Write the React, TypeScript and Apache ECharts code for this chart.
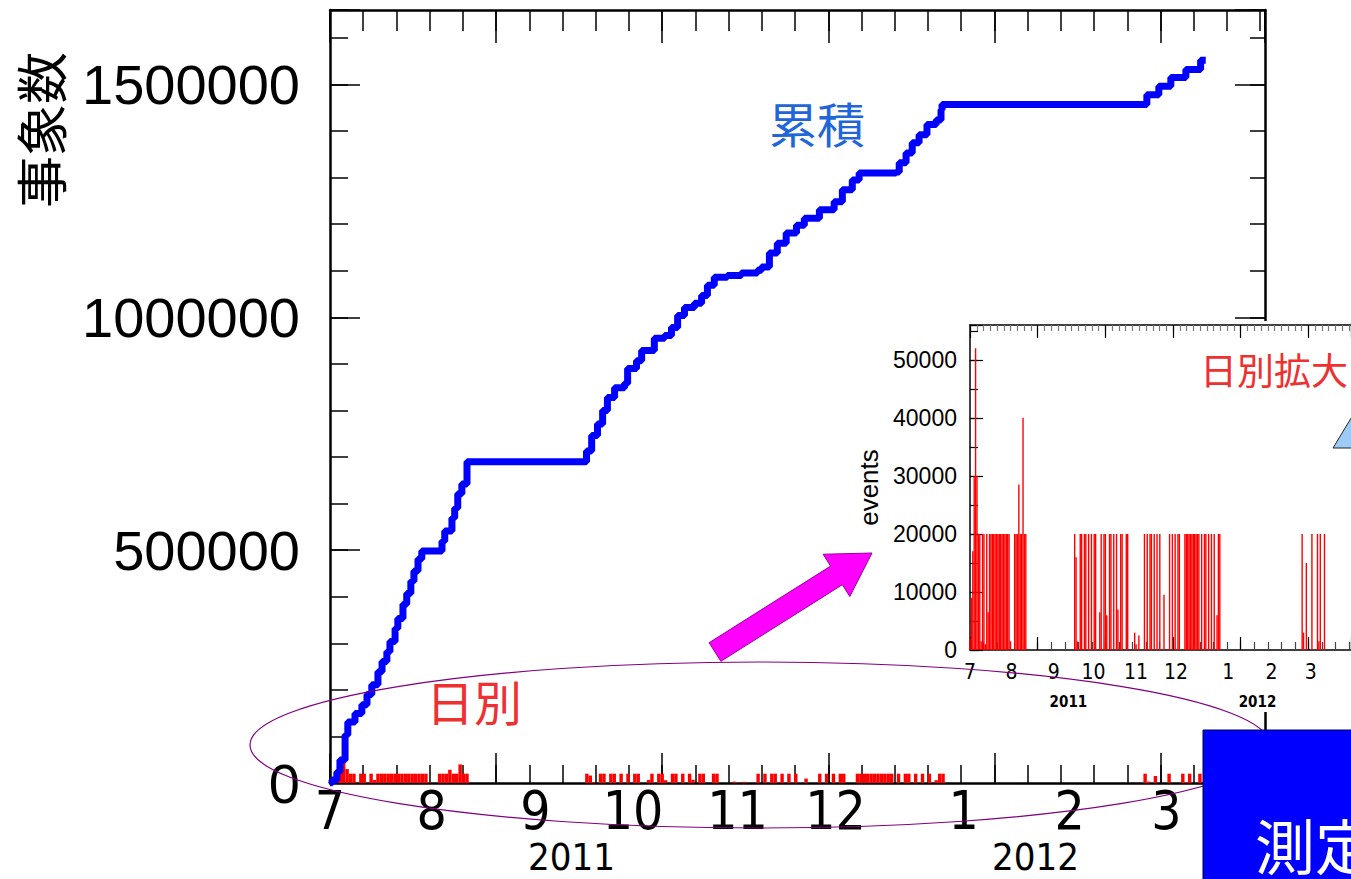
import React, { useEffect, useRef } from 'react';
import * as echarts from 'echarts';

// ---- data (x = days since 2011-07-01) ----
const monthDays = [0, 29.7, 60, 88.5, 119, 147.6, 185, 216, 244.2];
const monthNames = ['7', '8', '9', '10', '11', '12', '1', '2', '3'];
const yearDays = [70.5, 206];
const yearNames = ['2011', '2012'];

const cumulative: [number, number][] = [
  [0, 0], [0.6, 6500], [2, 23700], [2.9, 49600], [4.4, 103000], [5.2, 131000], [7.3, 149000],
  [9.3, 168000], [10.8, 190000], [12.2, 211000], [14, 239000], [15.2, 261000], [16.6, 282000],
  [17.5, 304000], [19, 332000], [19.8, 353000], [21.3, 384000], [22.4, 407000], [23.6, 433000],
  [24.5, 455000], [25.7, 481000], [26.8, 498000], [32, 498000], [32.7, 519000], [33.5, 541000],
  [35.6, 569000], [36.4, 590000], [37.3, 621000], [38.5, 642000], [40, 690000], [74, 690000],
  [74.9, 713000], [76.4, 746000], [78.1, 771000], [79.6, 800000], [81, 828000], [83.1, 849000],
  [86, 858000], [86.9, 890000], [89.5, 907000], [91, 929000], [92.7, 929000], [94.7, 955000],
  [97.7, 961000], [99.7, 978000], [101.5, 1004000], [103.5, 1021000], [106.4, 1030000],
  [108.5, 1047000], [110.2, 1069000], [112.2, 1086000], [116, 1090000], [120.1, 1095000],
  [124.8, 1101000], [126, 1108000], [128.3, 1138000], [130.6, 1159000], [133.2, 1181000],
  [136.2, 1198000], [138.5, 1213000], [142.9, 1231000], [147.2, 1248000], [149.6, 1274000],
  [152.5, 1295000], [154.5, 1310000], [165.3, 1312000], [166.2, 1332000], [168.2, 1353000],
  [170, 1375000], [172, 1392000], [174.3, 1414000], [177, 1424000], [178.4, 1446000],
  [178.7, 1457000], [238.2, 1457000], [238.5, 1478000], [242, 1496000], [245.5, 1515000],
  [249.9, 1532000], [254.2, 1552000], [255.7, 1552000],
];

const dailyEvents: [number, number][] = [
  [0, 2000], [1, 9000], [2, 17000], [3, 30000], [4, 52000], [5, 30000], [6, 20000], [7, 20000],
  [8, 1500], [9, 20000], [10, 20000], [11, 1000], [12, 20000], [13, 6500], [14, 20000], [15, 20000],
  [16, 20000], [17, 20000], [18, 20000], [19, 20000], [20, 20000], [21, 20000], [22, 20000],
  [23, 20000], [24, 20000], [25, 20000], [26, 20000], [27, 20000], [28, 20000], [29, 1500],
  [32, 20000], [33, 20000], [34, 20000], [35, 28500], [36, 20000], [37, 20000], [38, 40000],
  [39, 20000], [40, 20000],
  [75, 20000], [76, 16000], [77, 1500], [79, 20000], [80, 20000], [82, 20000], [83, 20000],
  [85, 20000], [87, 20000], [89, 20000], [90, 20000], [93, 6500], [94, 20000], [96, 20000],
  [97, 20000], [98, 6000],
  [100, 20000], [101, 20000], [103, 20000], [105, 20000], [106, 7000], [108, 20000], [109, 20000],
  [112, 20000], [113, 20000], [118, 3000], [119, 1000], [121, 2500],
  [125, 20000], [127, 20000], [129, 20000], [130, 20000], [132, 20000], [134, 20000], [136, 20000],
  [139, 9500], [143, 20000], [145, 20000], [147, 20000], [149, 20000], [150, 20000],
  [154, 20000], [155, 20000], [156, 20000], [157, 20000], [158, 20000], [159, 20000], [160, 20000],
  [161, 20000], [162, 20000], [163, 20000], [164, 20000],
  [166, 20000], [168, 20000], [169, 20000], [171, 20000], [173, 20000], [175, 20000], [177, 6000],
  [178, 20000], [179, 20000],
  [238, 20000], [239, 3000], [241, 15000], [245, 20000], [249, 20000], [250, 1500], [251, 20000],
  [254, 20000],
];

const X_MAX = 273;
const X_MAJOR = 48.5;
const X_MINOR = 9.7;
const Y_MAX = 1660000;
const Y_MAJOR = 500000;
const Y_MINOR = 100000;
const INSET_Y_MAX = 56000;
const INSET_Y_MAJOR = 10000;
const INSET_Y_MINOR = 5000;

const NARROW = "'Liberation Sans Narrow', 'DejaVu Sans Condensed', 'Liberation Sans', Arial, sans-serif";
const SANS = "'Liberation Sans', Arial, sans-serif";
const CJK = "'Noto Sans CJK JP', 'Noto Sans CJK SC', sans-serif";

const nearestName = (vals: number[], names: string[]) => (v: number) => {
  let best = 0;
  for (let i = 1; i < vals.length; i++) if (Math.abs(vals[i] - v) < Math.abs(vals[best] - v)) best = i;
  return Math.abs(vals[best] - v) < 1 ? names[best] : '';
};

function buildOption() {
  const mkX = (o: any) => ({
    type: 'value', min: 0, max: X_MAX, splitLine: { show: false }, axisLabel: { show: false },
    ...o,
    axisLine: { onZero: false, show: false, ...(o.axisLine || {}) },
  });
  const mkY = (o: any) => ({
    type: 'value', splitLine: { show: false }, axisLabel: { show: false },
    ...o,
    axisLine: { onZero: false, show: false, ...(o.axisLine || {}) },
  });
  const blackLine = (w: number) => ({ show: true, lineStyle: { color: '#000', width: w } });
  const tick = (len: number, color = '#000', w = 1.5) => ({ show: true, inside: true, length: len, lineStyle: { color, width: w } });
  const monthFmt = nearestName(monthDays, monthNames);
  const yearFmt = nearestName(yearDays, yearNames);

  const xAxis = [
    // main grid (0..5)
    mkX({ gridIndex: 0, position: 'bottom', interval: X_MINOR, axisLine: blackLine(2.5), axisTick: tick(18) }),
    mkX({ gridIndex: 0, position: 'bottom', interval: X_MAJOR, axisTick: tick(30) }),
    mkX({ gridIndex: 0, position: 'top', interval: X_MINOR, axisLine: blackLine(2.5), axisTick: tick(21) }),
    mkX({ gridIndex: 0, position: 'top', interval: X_MAJOR, axisTick: tick(33) }),
    mkX({
      gridIndex: 0, position: 'bottom', axisTick: { show: false },
      axisLabel: { show: true, customValues: monthDays, formatter: monthFmt, fontSize: 53, fontFamily: NARROW, color: '#000', margin: 1, showMinLabel: true, showMaxLabel: true },
    }),
    mkX({
      gridIndex: 0, position: 'bottom', offset: 55, axisTick: { show: false },
      axisLabel: { show: true, customValues: yearDays, formatter: yearFmt, fontSize: 38, fontFamily: NARROW, color: '#000', margin: 0 },
    }),
    // inset grid (6..11)
    mkX({ gridIndex: 1, position: 'bottom', interval: X_MINOR, axisLine: blackLine(1.5), axisTick: tick(8, '#444', 1.2), z: 6 }),
    mkX({ gridIndex: 1, position: 'bottom', interval: X_MAJOR, axisTick: tick(13, '#000', 1.2), z: 6 }),
    mkX({ gridIndex: 1, position: 'top', interval: X_MINOR / 2, axisLine: blackLine(1.5), axisTick: tick(6, '#777', 1.2), z: 6 }),
    mkX({ gridIndex: 1, position: 'top', interval: X_MAJOR, axisTick: tick(13, '#000', 1.2), z: 6 }),
    mkX({
      gridIndex: 1, position: 'bottom', axisTick: { show: false }, z: 6,
      axisLabel: { show: true, customValues: monthDays, formatter: monthFmt, fontSize: 21, fontFamily: NARROW, color: '#000', margin: 11 },
    }),
    mkX({
      gridIndex: 1, position: 'bottom', offset: 44, axisTick: { show: false }, z: 6,
      axisLabel: { show: true, customValues: yearDays, formatter: yearFmt, fontSize: 15, fontWeight: 'bold', fontFamily: NARROW, color: '#000', margin: 0 },
    }),
  ];

  const yAxis = [
    mkY({ gridIndex: 0, position: 'left', min: 0, max: Y_MAX, interval: Y_MINOR, axisLine: blackLine(2.5), axisTick: tick(18) }),
    mkY({
      gridIndex: 0, position: 'left', min: 0, max: Y_MAX, interval: Y_MAJOR, axisTick: tick(30),
      axisLabel: { show: true, formatter: (v: number) => (v % Y_MAJOR === 0 ? String(v) : ''), fontSize: 56, fontFamily: SANS, color: '#000', margin: 30 },
    }),
    mkY({ gridIndex: 0, position: 'right', min: 0, max: Y_MAX, interval: Y_MINOR, axisLine: blackLine(2.5), axisTick: tick(15) }),
    mkY({ gridIndex: 0, position: 'right', min: 0, max: Y_MAX, interval: Y_MAJOR, axisTick: tick(30) }),
    mkY({ gridIndex: 1, position: 'left', min: 0, max: INSET_Y_MAX, interval: INSET_Y_MINOR, axisLine: blackLine(1.5), axisTick: tick(8, '#000', 1.2), z: 6 }),
    mkY({
      gridIndex: 1, position: 'left', min: 0, max: INSET_Y_MAX, interval: INSET_Y_MAJOR, axisTick: tick(13, '#000', 1.2), z: 6,
      axisLabel: { show: true, formatter: (v: number) => (v % INSET_Y_MAJOR === 0 ? String(v) : ''), fontSize: 23, fontFamily: SANS, color: '#000', margin: 13 },
      name: 'events', nameLocation: 'middle', nameGap: 88, nameRotate: 90,
      nameTextStyle: { fontSize: 26, fontFamily: SANS, color: '#000' },
    }),
  ];

  // arrow geometry
  const tail = [715, 652];
  const tip = [872, 553];
  const dx = tip[0] - tail[0], dy = tip[1] - tail[1];
  const L = Math.hypot(dx, dy);
  const u = [dx / L, dy / L];
  const n = [-u[1], u[0]];
  const sw = 11, hw = 25, hl = 42;
  const B = [tip[0] - hl * u[0], tip[1] - hl * u[1]];
  const P = (p: number[], k: number) => [p[0] + k * n[0], p[1] + k * n[1]];
  const arrowPts = [P(tail, -sw), P(B, -sw), P(B, -hw), tip, P(B, hw), P(B, sw), P(tail, sw)];

  return {
    animation: false,
    backgroundColor: '#fff',
    grid: [
      { left: 330, top: 10, right: 86, bottom: 96 },
      { left: 970, top: 325, right: -15, bottom: 229 },
    ],
    xAxis,
    yAxis,
    series: [
      {
        type: 'bar', xAxisIndex: 0, yAxisIndex: 0, data: dailyEvents, barWidth: 3.4,
        itemStyle: { color: '#ff0000' }, z: 2,
      },
      {
        type: 'line', xAxisIndex: 0, yAxisIndex: 0, data: cumulative, step: 'end', showSymbol: false,
        lineStyle: { color: '#0000ff', width: 7 }, z: 3,
      },
      {
        type: 'bar', xAxisIndex: 6, yAxisIndex: 4, data: dailyEvents, barWidth: 1.4,
        itemStyle: { color: '#ff0000' }, z: 7,
      },
    ],
    graphic: [
      { type: 'rect', shape: { x: 960, y: 321, width: 400, height: 391 }, style: { fill: '#fff' }, z: 5, silent: true },
      {
        type: 'text', x: 39, y: 130, rotation: Math.PI / 2, z: 10,
        style: { text: '事象数', fontSize: 52, fontFamily: CJK, fill: '#000', align: 'center', verticalAlign: 'middle' },
      },
      {
        type: 'text', x: 817, y: 122, z: 10,
        style: { text: '累積', fontSize: 48, fontFamily: CJK, fill: '#2166d9', align: 'center', verticalAlign: 'middle' },
      },
      {
        type: 'text', x: 474, y: 700, z: 10,
        style: { text: '日別', fontSize: 48, fontFamily: CJK, fill: '#ee3030', align: 'center', verticalAlign: 'middle' },
      },
      {
        type: 'text', x: 1274, y: 369, z: 10,
        style: { text: '日別拡大', fontSize: 37, fontFamily: CJK, fill: '#ee3030', align: 'center', verticalAlign: 'middle' },
      },
      {
        type: 'ellipse', shape: { cx: 760, cy: 745, rx: 510, ry: 83 }, z: 12,
        style: { fill: 'none', stroke: '#800080', lineWidth: 1.2 },
      },
      {
        type: 'polygon', shape: { points: arrowPts }, z: 12,
        style: { fill: '#ff00ff', stroke: '#990099', lineWidth: 1 },
      },
      {
        type: 'polygon', shape: { points: [[1333, 448], [1356, 410], [1356, 448]] }, z: 12,
        style: { fill: '#9ecbf5', stroke: '#222', lineWidth: 1 },
      },
      {
        type: 'rect', shape: { x: 1203, y: 730, width: 160, height: 160 }, z: 20,
        style: { fill: '#0000ff', stroke: '#000040', lineWidth: 1 },
      },
      {
        type: 'text', x: 1255, y: 843, z: 21,
        style: { text: '測定', fontSize: 60, fontFamily: CJK, fill: '#fff', align: 'left', verticalAlign: 'middle' },
      },
    ],
  };
}

export default function App() {
  const ref = useRef<HTMLDivElement>(null);
  useEffect(() => {
    if (!ref.current) return;
    const chart = echarts.init(ref.current, undefined, { renderer: 'svg' });
    chart.setOption(buildOption() as any);
    return () => chart.dispose();
  }, []);
  return (
    <div
      ref={ref}
      style={{ position: 'absolute', left: 0, top: 0, width: 1351, height: 879, background: '#fff' }}
    />
  );
}
